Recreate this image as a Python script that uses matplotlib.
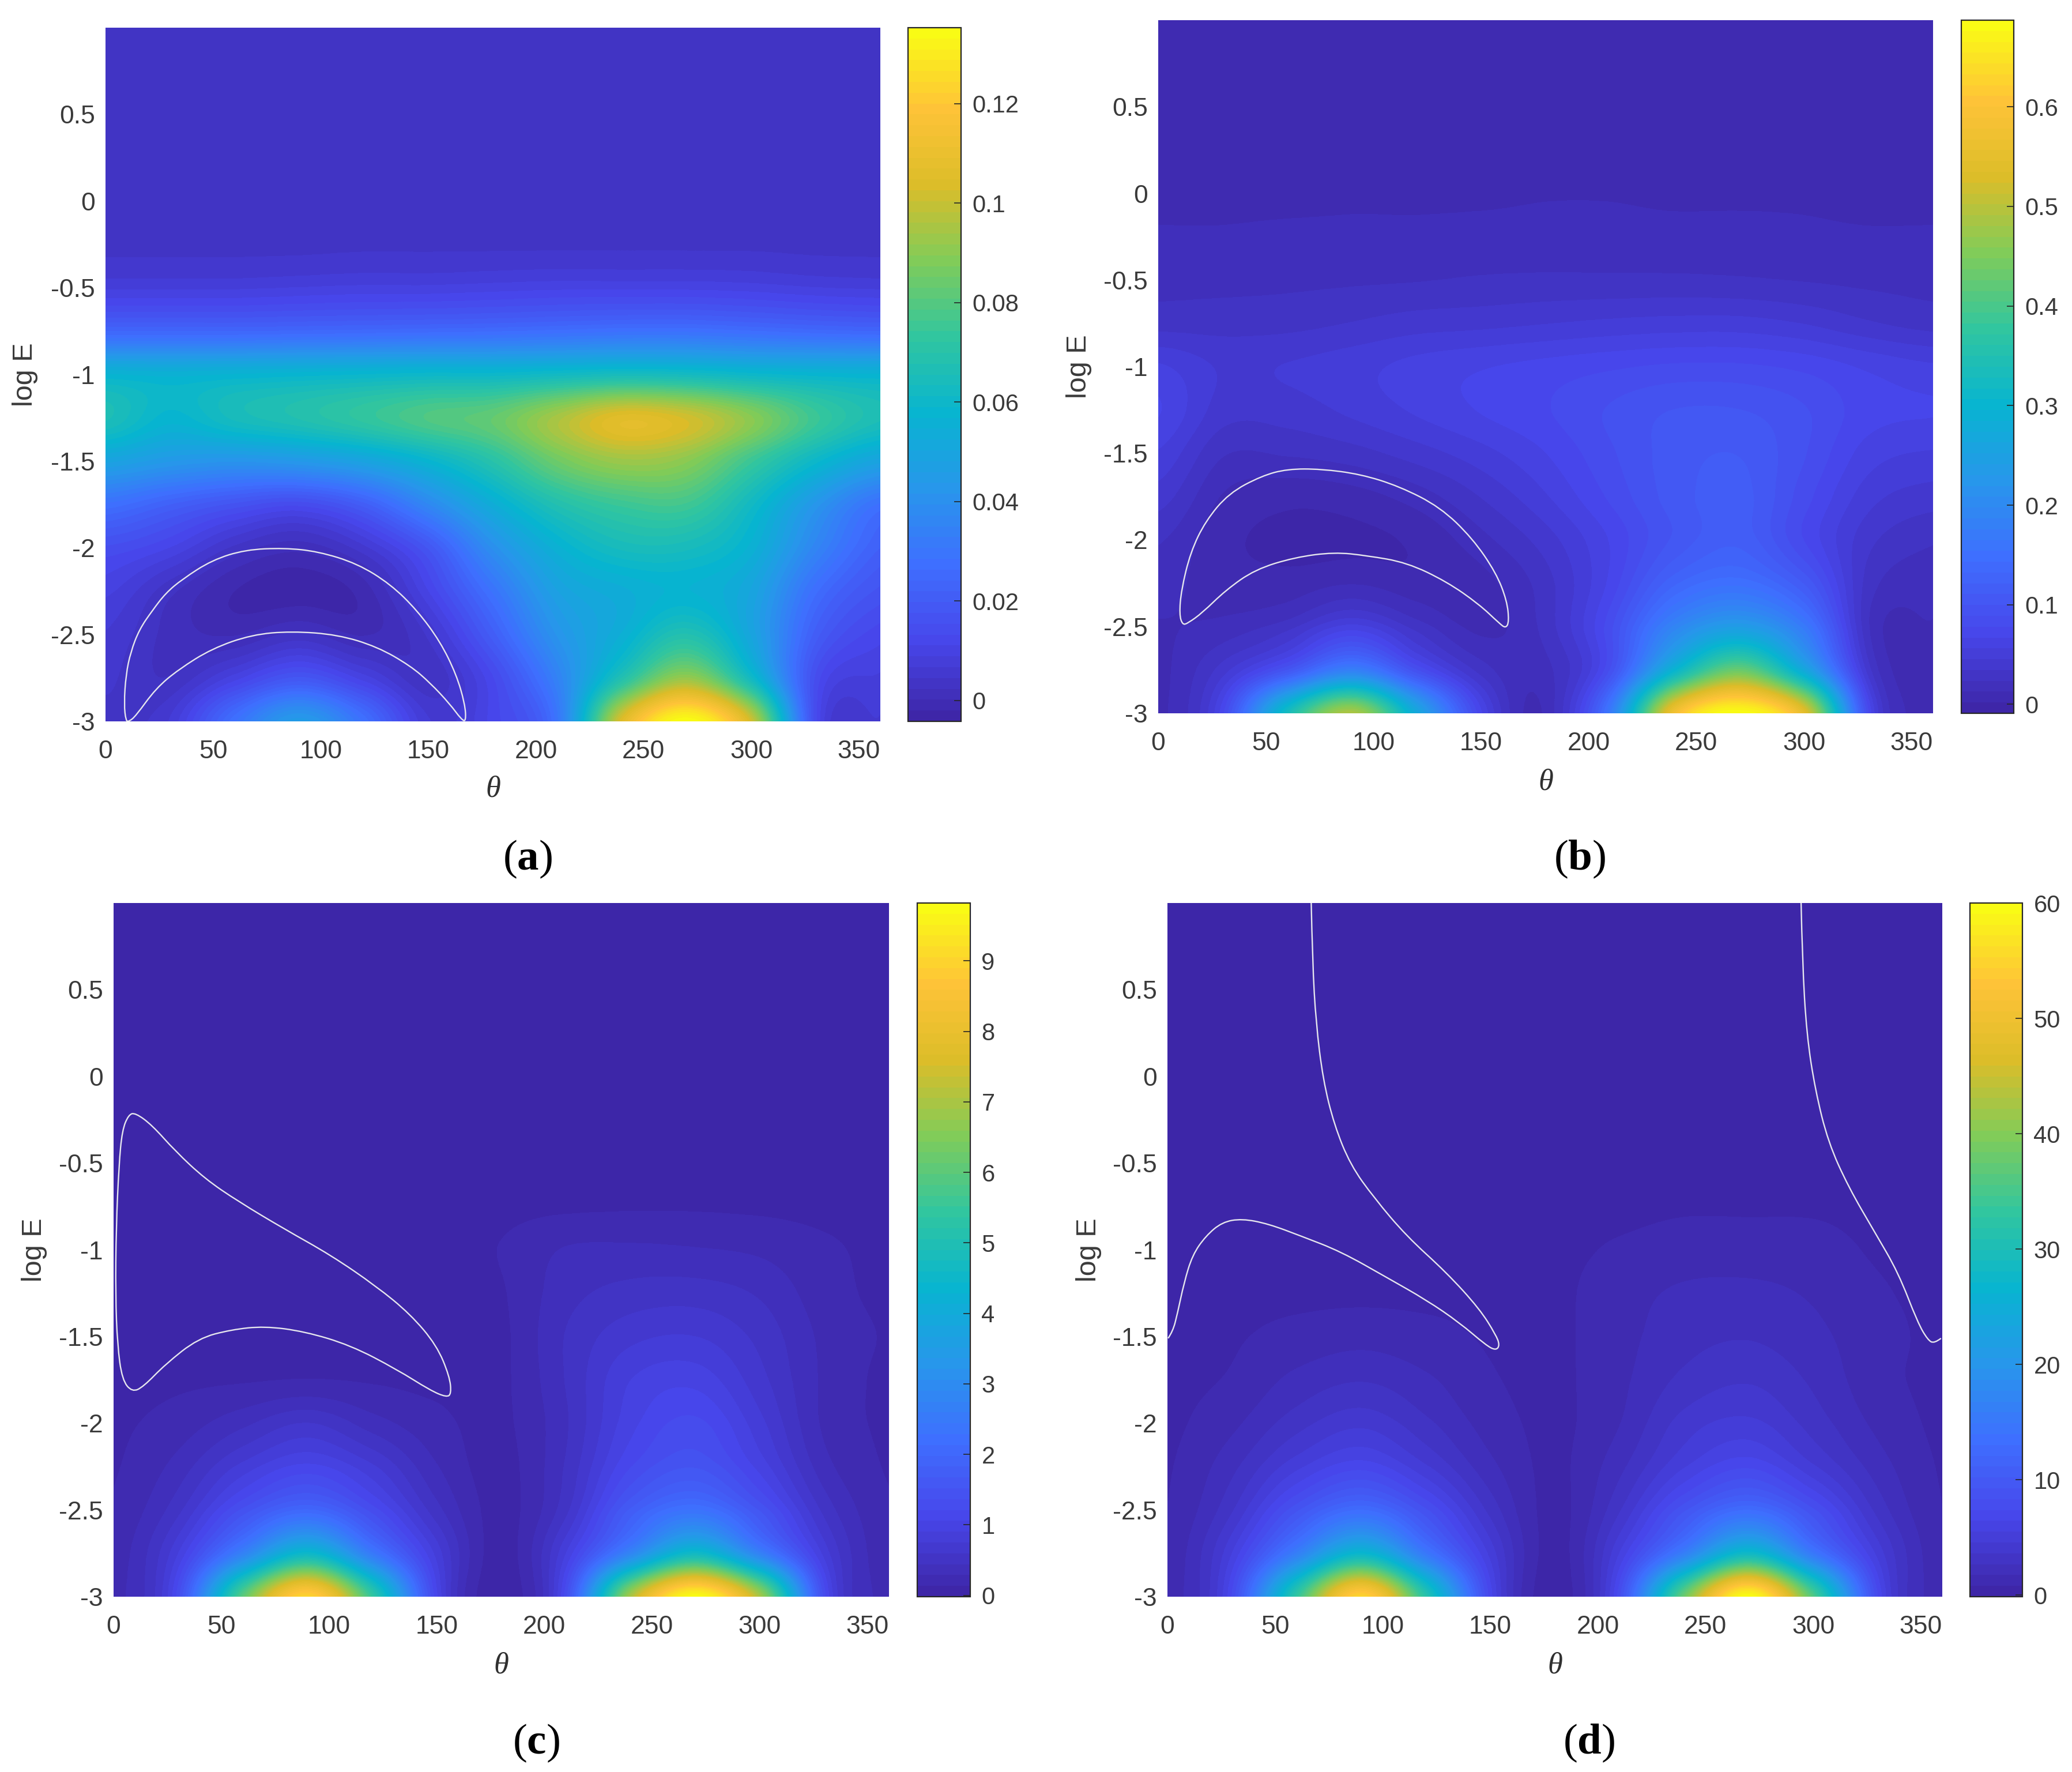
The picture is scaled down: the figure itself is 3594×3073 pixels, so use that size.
import numpy as np
import matplotlib
matplotlib.use('Agg')
import matplotlib.pyplot as plt
from matplotlib.colors import LinearSegmentedColormap
from matplotlib.patches import PathPatch
from matplotlib.path import Path

W, H = 3594, 3073

# grid the field values were read on
theta = [0, 30, 60, 90, 120, 150, 180, 210, 240, 270, 300, 330, 360]
log_e = [1.0, 0.75, 0.5, 0.25, 0.0, -0.25, -0.5, -0.75, -1.0, -1.25, -1.5, -1.75, -2.0, -2.25, -2.5, -2.75, -3.0]

field_a = [
    [.0040, .0040, .0040, .0040, .0040, .0040, .0040, .0040, .0040, .0040, .0040, .0040, .0040],
    [.0040, .0040, .0040, .0040, .0040, .0040, .0040, .0040, .0040, .0040, .0040, .0040, .0040],
    [.0040, .0040, .0040, .0040, .0040, .0040, .0040, .0040, .0040, .0040, .0040, .0040, .0040],
    [.0038, .0038, .0038, .0038, .0038, .0038, .0038, .0038, .0038, .0038, .0038, .0038, .0038],
    [.0036, .0036, .0036, .0036, .0036, .0036, .0036, .0036, .0036, .0036, .0036, .0036, .0036],
    [.0038, .0038, .0038, .0038, .0040, .0040, .0040, .0040, .0040, .0040, .0040, .0038, .0038],
    [.0085, .0085, .0085, .0090, .0095, .0095, .0100, .0105, .0105, .0105, .0100, .0090, .0085],
    [.0240, .0240, .0240, .0245, .0250, .0255, .0260, .0270, .0280, .0280, .0265, .0250, .0240],
    [.0570, .0560, .0570, .0580, .0590, .0600, .0600, .0620, .0640, .0630, .0600, .0580, .0570],
    [.0660, .0580, .0640, .0680, .0730, .0790, .0830, .0950, .1060, .1020, .0900, .0750, .0660],
    [.0490, .0440, .0420, .0440, .0490, .0580, .0700, .0850, .0930, .0900, .0750, .0600, .0490],
    [.0280, .0220, .0170, .0140, .0210, .0370, .0540, .0680, .0750, .0760, .0620, .0430, .0280],
    [.0150, .0110, .0040, .0010, .0060, .0180, .0400, .0560, .0640, .0640, .0560, .0360, .0220],
    [.0095, .0030, -.002, -.003, -.001, .0110, .0290, .0480, .0540, .0570, .0500, .0270, .0170],
    [.0065, .0015, .0000, .0030, .0000, .0050, .0210, .0420, .0550, .0680, .0500, .0210, .0120],
    [.0050, .0025, .0100, .0180, .0100, .0030, .0130, .0350, .0680, .0920, .0620, .0150, .0085],
    [.0040, .0070, .0280, .0450, .0280, .0070, .0120, .0300, .1050, .1353, .1020, .0140, .0065],
]
field_b = [
    [.006, .006, .006, .006, .006, .006, .006, .006, .006, .006, .006, .006, .006],
    [.006, .006, .006, .006, .006, .006, .006, .006, .006, .006, .006, .006, .006],
    [.006, .006, .006, .006, .006, .006, .006, .006, .006, .006, .006, .006, .006],
    [.007, .007, .007, .007, .007, .007, .007, .007, .007, .007, .007, .007, .007],
    [.010, .010, .010, .011, .011, .011, .012, .012, .011, .011, .011, .010, .010],
    [.014, .014, .015, .015, .015, .016, .016, .016, .016, .016, .015, .014, .014],
    [.020, .020, .021, .022, .023, .025, .026, .026, .026, .025, .023, .021, .020],
    [.030, .030, .031, .035, .040, .042, .045, .048, .050, .050, .045, .036, .030],
    [.058, .044, .046, .052, .060, .066, .071, .076, .080, .080, .075, .065, .058],
    [.068, .040, .040, .048, .058, .068, .077, .090, .100, .100, .090, .072, .068],
    [.055, .025, .025, .030, .040, .052, .067, .087, .105, .110, .090, .062, .055],
    [.040, .012, .005, .008, .018, .035, .055, .080, .105, .115, .083, .050, .040],
    [.025, .005, .000, .000, .004, .020, .040, .068, .102, .118, .078, .038, .025],
    [.017, .007, .006, .012, .006, .009, .030, .070, .130, .150, .110, .030, .017],
    [.012, .016, .030, .060, .030, .010, .028, .085, .190, .240, .170, .025, .012],
    [.009, .040, .100, .180, .090, .030, .020, .090, .300, .430, .270, .040, .009],
    [.008, .075, .330, .490, .270, .070, .015, .170, .580, .687, .550, .080, .008],
]
field_c = [
    [.10, .10, .10, .10, .10, .10, .10, .10, .10, .10, .10, .10, .10],
    [.10, .10, .10, .10, .10, .10, .10, .10, .10, .10, .10, .10, .10],
    [.10, .10, .10, .10, .10, .10, .10, .10, .10, .10, .10, .10, .10],
    [.10, .10, .10, .10, .10, .10, .10, .10, .10, .10, .10, .10, .10],
    [.10, .10, .10, .10, .10, .10, .10, .10, .10, .10, .10, .10, .10],
    [.10, .10, .10, .10, .10, .10, .10, .10, .10, .10, .10, .10, .10],
    [.10, .10, .10, .10, .10, .10, .10, .10, .10, .10, .10, .10, .10],
    [.10, .10, .10, .10, .10, .10, .10, .11, .12, .12, .11, .10, .10],
    [.10, .10, .10, .10, .10, .10, .14, .30, .32, .30, .26, .16, .10],
    [.10, .10, .10, .10, .10, .10, .12, .38, .50, .52, .42, .20, .10],
    [.10, .10, .10, .10, .10, .10, .10, .45, .70, .75, .55, .25, .12],
    [.10, .11, .12, .14, .12, .10, .10, .45, .90, 1.0, .65, .26, .10],
    [.11, .20, .40, .60, .36, .18, .10, .42, 1.0, 1.25, .80, .26, .11],
    [.12, .35, .80, 1.1, .78, .30, .08, .46, 1.2, 1.5, 1.0, .35, .12],
    [.15, .55, 1.4, 2.0, 1.3, .50, .08, .55, 1.7, 2.3, 1.5, .55, .15],
    [.18, .90, 2.7, 4.5, 2.5, .85, .06, .90, 2.8, 4.6, 2.7, .85, .15],
    [.20, 1.3, 6.0, 9.0, 5.5, 1.1, .05, 1.3, 7.0, 9.8, 7.0, 1.3, .20],
]
field_d = [
    [.6, .6, .6, .6, .6, .6, .6, .6, .6, .6, .6, .6, .6],
    [.6, .6, .6, .6, .6, .6, .6, .6, .6, .6, .6, .6, .6],
    [.6, .6, .6, .6, .6, .6, .6, .6, .6, .6, .6, .6, .6],
    [.6, .6, .6, .6, .6, .6, .6, .6, .6, .6, .6, .6, .6],
    [.6, .6, .6, .6, .6, .6, .6, .6, .6, .6, .6, .6, .6],
    [.6, .6, .6, .6, .6, .6, .6, .6, .6, .6, .6, .6, .6],
    [.6, .6, .6, .6, .6, .6, .6, .6, .6, .6, .6, .6, .6],
    [.6, .6, .6, .6, .6, .6, .6, .6, .7, .7, .7, .6, .6],
    [.6, .6, .6, .6, .6, .6, .6, .9, 1.2, 1.2, 1.1, .7, .6],
    [.6, .6, .6, .6, .6, .6, .6, 1.3, 1.9, 2.0, 1.6, .9, .6],
    [.6, .7, 1.1, 1.4, 1.1, .7, .6, 1.4, 2.3, 2.6, 2.0, 1.1, .6],
    [.6, .9, 2.0, 2.6, 1.9, .9, .6, 1.5, 2.9, 3.5, 2.5, 1.1, .6],
    [.6, 1.5, 3.2, 4.3, 2.9, 1.3, .6, 1.7, 4.0, 4.8, 3.2, 1.5, .6],
    [.7, 2.4, 5.2, 7.0, 4.7, 2.0, .6, 2.4, 5.4, 7.2, 4.7, 2.2, .7],
    [.8, 3.5, 9.0, 13., 8.5, 3.3, .5, 3.5, 9.0, 13., 8.5, 3.3, .8],
    [.9, 5.5, 16., 27., 15., 5.2, .4, 5.5, 16., 28., 15., 5.2, .9],
    [1., 7.5, 33., 55., 32., 7.0, .3, 8.0, 38., 60., 36., 7.5, 1.],
]

# white level lines, (theta, log E)
line_a = [[(9.5, -3), (8.6, -2.9), (9.5, -2.73), (11.7, -2.6), (15.7, -2.47), (21.8, -2.36), (28, -2.26), (35.7, -2.18),
           (49.5, -2.07), (65, -2.01), (83, -2.0), (98.7, -2.02), (117, -2.09), (132.5, -2.21), (144.8, -2.36), (155.5, -2.54),
           (163, -2.73), (167, -2.9), (167.5, -3), (165.4, -2.99), (160, -2.9), (151, -2.78), (141.7, -2.68), (126.3, -2.57),
           (107.9, -2.5), (86.4, -2.48), (68, -2.5), (49.5, -2.58), (34, -2.7), (23.4, -2.81), (14, -2.97), (11, -3), (9.5, -3)]]
line_b = [[(11.3, -2.49), (9.8, -2.43), (10.7, -2.29), (15, -2.07), (22, -1.89), (32.8, -1.73), (48, -1.63), (60, -1.59),
           (75.7, -1.59), (94, -1.62), (112, -1.69), (131, -1.81), (146, -1.99), (157, -2.19), (162, -2.35), (163, -2.47),
           (161.5, -2.51), (158.4, -2.48), (149, -2.37), (134, -2.24), (115.5, -2.13), (97, -2.09), (81.8, -2.07), (63.4, -2.1),
           (45, -2.17), (31.3, -2.29), (20.5, -2.42), (13.8, -2.48), (11.3, -2.49)]]
line_c = [[(10.1, -0.21), (7, -0.22), (4, -0.31), (2.5, -0.51), (1.2, -0.87), (0.9, -1.26), (1.8, -1.55), (4, -1.75), (8.6, -1.82),
           (13.8, -1.79), (24, -1.66), (39.3, -1.51), (54.7, -1.46), (70, -1.44), (88.5, -1.47), (110, -1.55), (131.6, -1.69),
           (147, -1.81), (154.6, -1.85), (156.8, -1.83), (156, -1.73), (150, -1.55), (137.7, -1.37), (122, -1.21), (100.8, -1.03),
           (79.3, -0.88), (57.8, -0.72), (42.4, -0.59), (28.6, -0.43), (17.8, -0.28), (10.1, -0.21)]]
line_d = [[(66.8, 1.0), (67.4, .66), (69, .31), (72.3, -.02), (77.5, -.28), (85, -.51), (96, -.70), (111, -.92), (129.6, -1.13),
           (145, -1.34), (152.6, -1.49), (154.4, -1.55), (152.6, -1.58), (148, -1.55), (135.7, -1.42), (120.4, -1.29), (102, -1.16),
           (80.6, -1.01), (62, -.92), (46.9, -.85), (34.6, -.82), (25.4, -.84), (17.8, -.92), (11.6, -1.03), (7.7, -1.19),
           (4.6, -1.37), (2.5, -1.47), (.3, -1.51)],
          [(294.4, 1.0), (295, .66), (297, .24), (301, -.08), (307, -.38), (316.5, -.64), (328.7, -.90), (339.5, -1.13),
           (348.6, -1.42), (353.3, -1.52), (356.3, -1.54), (359.4, -1.51)]]

x_ticks = [0, 50, 100, 150, 200, 250, 300, 350]
y_ticks = [-3, -2.5, -2, -1.5, -1, -0.5, 0, 0.5]
y_labels = ['-3', '-2.5', '-2', '-1.5', '-1', '-0.5', '0', '0.5']

ticks_a = [0, 0.02, 0.04, 0.06, 0.08, 0.1, 0.12]
labels_a = ['0', '0.02', '0.04', '0.06', '0.08', '0.1', '0.12']
ticks_b = [0, 0.1, 0.2, 0.3, 0.4, 0.5, 0.6]
labels_b = ['0', '0.1', '0.2', '0.3', '0.4', '0.5', '0.6']
ticks_c = [0, 1, 2, 3, 4, 5, 6, 7, 8, 9]
labels_c = ['0', '1', '2', '3', '4', '5', '6', '7', '8', '9']
ticks_d = [0, 10, 20, 30, 40, 50, 60]
labels_d = ['0', '10', '20', '30', '40', '50', '60']

plt.rcParams['font.family'] = ['Liberation Sans', 'DejaVu Sans']
plt.rcParams['mathtext.fontset'] = 'custom'
plt.rcParams['mathtext.rm'] = 'Liberation Serif'
plt.rcParams['mathtext.bf'] = 'Liberation Serif:bold'

# parula, MATLAB's default map
parula = LinearSegmentedColormap.from_list('parula', [
    (0.2422, 0.1504, 0.6603), (0.2803, 0.2782, 0.9221), (0.2440, 0.4358, 0.9988),
    (0.1540, 0.5902, 0.9218), (0.0297, 0.7082, 0.8163), (0.1938, 0.7758, 0.6251),
    (0.5044, 0.7993, 0.3480), (0.8634, 0.7406, 0.1596), (0.9970, 0.7659, 0.2199),
    (0.9769, 0.9839, 0.0805)], N=64)

TEXT = '#3a3a3a'


def box(x0, y0, x1, y1):
    # pixel box in the output image -> figure fractions
    return [x0 / W, 1 - y1 / H, (x1 - x0) / W, (y1 - y0) / H]


def smooth_path(line):
    # read points become quadratic bezier controls, so the curve has no corners
    pts = [np.array(p, dtype=float) for p in line]
    closed = line[0] == line[-1]
    if closed:
        pts = pts[:-1]
        start = (pts[-1] + pts[0]) / 2
        verts, codes = [start], [Path.MOVETO]
        for i, p in enumerate(pts):
            verts += [p, (p + pts[(i + 1) % len(pts)]) / 2]
            codes += [Path.CURVE3, Path.CURVE3]
    else:
        verts, codes = [pts[0]], [Path.MOVETO]
        for i in range(1, len(pts) - 1):
            end = pts[i + 1] if i == len(pts) - 2 else (pts[i] + pts[i + 1]) / 2
            verts += [pts[i], end]
            codes += [Path.CURVE3, Path.CURVE3]
    return Path(verts, codes)


def panel(field, lines, vmin, vmax, ticks, labels, main, cbar, ylab_x, xlab_y, letter, cap_xy):
    ax = fig.add_axes(box(*main))
    cax = fig.add_axes(box(*cbar))
    dx = theta[1] - theta[0]
    dy = log_e[0] - log_e[1]
    im = ax.imshow(np.array(field), cmap=parula, vmin=vmin, vmax=vmax, aspect='auto',
                   interpolation='catrom', interpolation_stage='data',
                   extent=(theta[0] - dx / 2, theta[-1] + dx / 2, log_e[-1] - dy / 2, log_e[0] + dy / 2))
    for line in lines:
        ax.add_patch(PathPatch(smooth_path(line), fill=False, edgecolor='#e6e6ee', lw=1.7))
    ax.set_xlim(0, 360)
    ax.set_ylim(-3, 1)
    ax.set_xticks(x_ticks)
    ax.set_yticks(y_ticks)
    ax.set_yticklabels(y_labels)
    ax.tick_params(length=0, labelsize=32, labelcolor=TEXT)
    ax.tick_params(axis='x', pad=23)
    ax.tick_params(axis='y', pad=13)
    for s in ax.spines.values():
        s.set_visible(False)

    cb = fig.colorbar(im, cax=cax)
    cb.set_ticks(ticks)
    cb.set_ticklabels(labels)
    cb.ax.tick_params(direction='in', length=9, width=1.2, color='#262626', labelsize=30, labelcolor=TEXT, pad=14)
    cb.outline.set_edgecolor('#262626')
    cb.outline.set_linewidth(1.6)

    mid_x = (main[0] + main[2]) / 2
    mid_y = (main[1] + main[3]) / 2
    fig.text(mid_x / W, 1 - xlab_y / H, 'θ', family='Liberation Serif', style='italic', fontsize=38,
             color='#303030', ha='center', va='center')
    fig.text(ylab_x / W, 1 - mid_y / H, 'log E', fontsize=35, color=TEXT, rotation=90, ha='center', va='center')
    fig.text(cap_xy[0] / W, 1 - cap_xy[1] / H, '($\\mathbf{%s}$)' % letter, family='Liberation Serif', fontsize=54,
             color='black', ha='center', va='center')


fig = plt.figure(figsize=(W / 100, H / 100), dpi=100)

panel(field_a, line_a, -0.0042, 0.1353, ticks_a, labels_a, (183, 48, 1527, 1251), (1575, 48, 1667, 1251), 44, 1369, 'a', (915, 1490))
panel(field_b, line_b, -0.009, 0.687, ticks_b, labels_b, (2009, 35, 3353, 1237), (3402, 35, 3493, 1237), 1872, 1356, 'b', (2740, 1490))
panel(field_c, line_c, -0.02, 9.82, ticks_c, labels_c, (197, 1566, 1542, 2769), (1591, 1566, 1683, 2769), 59, 2889, 'c', (930, 3023))
panel(field_d, line_d, -0.15, 60, ticks_d, labels_d, (2025, 1566, 3369, 2769), (3417, 1566, 3508, 2769), 1888, 2889, 'd', (2756, 3023))

fig.savefig('out.png', dpi=100)
